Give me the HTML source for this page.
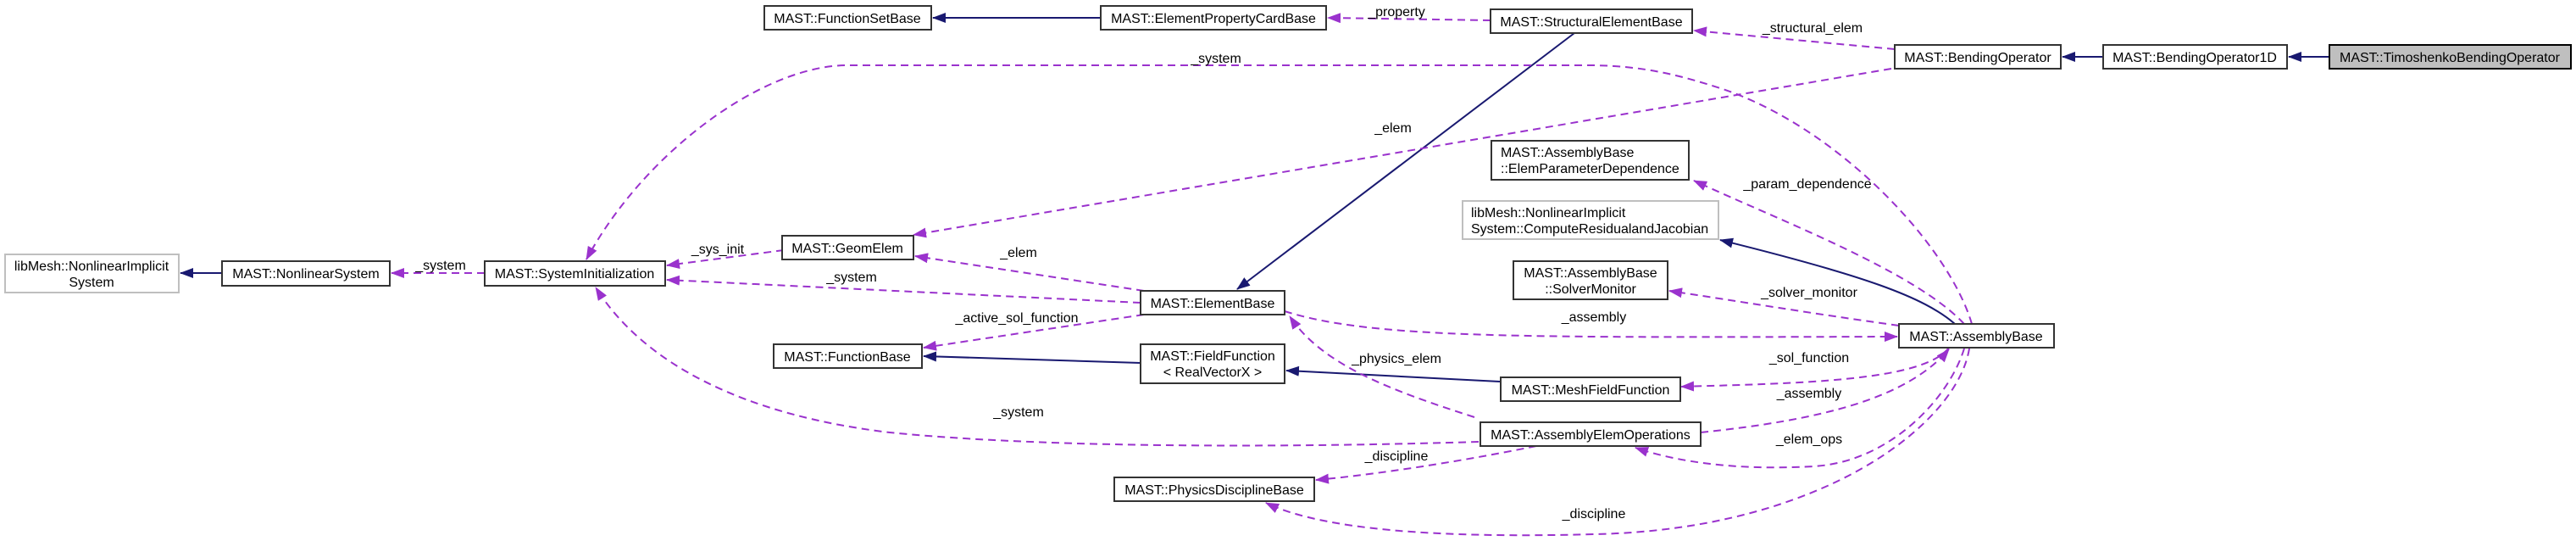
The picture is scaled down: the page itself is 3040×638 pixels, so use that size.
<!DOCTYPE html>
<html><head><meta charset="utf-8"><style>
html,body{margin:0;padding:0;background:#fff;}
svg{display:block;}
text{font-family:"Liberation Sans",Arial,sans-serif;font-size:16px;fill:#000;}
.b{fill:#fff;stroke:#333;stroke-width:2;}
.g{fill:#fff;stroke:#bfbfbf;stroke-width:2;}
.d{fill:none;stroke:#9a32cd;stroke-width:2;stroke-dasharray:9,6;}
.s{fill:none;stroke:#191970;stroke-width:2;}
</style></head><body>
<svg width="3040" height="638" viewBox="0 0 3040 638" xmlns="http://www.w3.org/2000/svg">
<defs>
<marker id="ap" markerWidth="16" markerHeight="12" refX="15" refY="6" orient="auto" markerUnits="userSpaceOnUse" viewBox="0 0 16 12"><path d="M0,0 L16,6 L0,12 z" fill="#9a32cd"/></marker>
<marker id="as" markerWidth="16" markerHeight="12" refX="15" refY="6" orient="auto" markerUnits="userSpaceOnUse" viewBox="0 0 16 12"><path d="M0,0 L16,6 L0,12 z" fill="#191970"/></marker>
</defs>
<g>
<path class="s" d="M1299,21 L1101,21" marker-end="url(#as)"/>
<path class="d" d="M1759,24 L1567,21" marker-end="url(#ap)"/>
<path class="d" d="M2236,58 L1999,36" marker-end="url(#ap)"/>
<path class="s" d="M2482,67 L2434,67" marker-end="url(#as)"/>
<path class="s" d="M2749,67 L2701,67" marker-end="url(#as)"/>
<path class="s" d="M1858,39 L1460,341" marker-end="url(#as)"/>
<path class="d" d="M2327,382 C2300,290 2170,150 2030,104 C1980,88 1940,78 1880,77 L1000,77 C900,77 760,180 692,306" marker-end="url(#ap)"/>
<path class="d" d="M2232,81 L1078,277" marker-end="url(#ap)"/>
<path class="d" d="M2318,382 C2260,320 2100,260 1999,213" marker-end="url(#ap)"/>
<path class="s" d="M2307,382 C2270,350 2200,325 2030,283" marker-end="url(#as)"/>
<path class="d" d="M2241,384 C2140,370 2050,355 1970,343" marker-end="url(#ap)"/>
<path class="s" d="M262,322 L213,322" marker-end="url(#as)"/>
<path class="d" d="M572,322 L462,322" marker-end="url(#ap)"/>
<path class="d" d="M925,295 L787,313" marker-end="url(#ap)"/>
<path class="d" d="M1350,343 L1080,302" marker-end="url(#ap)"/>
<path class="d" d="M1346,357 L787,330" marker-end="url(#ap)"/>
<path class="d" d="M1350,371 L1090,410" marker-end="url(#ap)"/>
<path class="d" d="M1516,367 C1620,400 1800,398 2239,397" marker-end="url(#ap)"/>
<path class="s" d="M1346,428 L1090,420" marker-end="url(#as)"/>
<path class="s" d="M1770,450 L1518,437" marker-end="url(#as)"/>
<path class="d" d="M2300,410 C2270,450 2120,452 1984,456" marker-end="url(#ap)"/>
<path class="d" d="M1740,492 C1640,460 1560,430 1522,373" marker-end="url(#ap)"/>
<path class="d" d="M2007,510 C2150,495 2250,470 2300,412" marker-end="url(#ap)"/>
<path class="d" d="M2318,411 C2300,470 2230,545 2140,550 C2050,555 1980,545 1930,528" marker-end="url(#ap)"/>
<path class="d" d="M1745,521 C1550,527 1250,530 1050,510 C880,490 760,430 703,339" marker-end="url(#ap)"/>
<path class="d" d="M1813,526 C1720,545 1620,560 1553,566" marker-end="url(#ap)"/>
<path class="d" d="M2324,411 C2310,500 2150,625 1880,630 C1700,635 1560,625 1494,593" marker-end="url(#ap)"/>
</g>
<rect class="b" x="902" y="7" width="197" height="28"/><text x="1000" y="27" text-anchor="middle">MAST::FunctionSetBase</text>
<rect class="b" x="1299" y="7" width="266" height="28"/><text x="1432" y="27" text-anchor="middle">MAST::ElementPropertyCardBase</text>
<rect class="b" x="1759" y="11" width="238" height="28"/><text x="1878" y="31" text-anchor="middle">MAST::StructuralElementBase</text>
<rect class="b" x="2236" y="53" width="196" height="28"/><text x="2334" y="73" text-anchor="middle">MAST::BendingOperator</text>
<rect class="b" x="2482" y="53" width="217" height="28"/><text x="2590" y="73" text-anchor="middle">MAST::BendingOperator1D</text>
<rect x="2749" y="53" width="285" height="28" fill="#bfbfbf" stroke="#000" stroke-width="2"/><text x="2891" y="73" text-anchor="middle">MAST::TimoshenkoBendingOperator</text>
<rect class="b" x="1760" y="166" width="233" height="46"/><text x="1771" y="185">MAST::AssemblyBase</text><text x="1771" y="204">::ElemParameterDependence</text>
<rect class="g" x="1726" y="237" width="302" height="45"/><text x="1736" y="256">libMesh::NonlinearImplicit</text><text x="1736" y="275">System::ComputeResidualandJacobian</text>
<rect class="b" x="1786" y="308" width="182" height="45"/><text x="1877" y="327" text-anchor="middle">MAST::AssemblyBase</text><text x="1877" y="346" text-anchor="middle">::SolverMonitor</text>
<rect class="b" x="2241" y="382" width="183" height="28"/><text x="2332" y="402" text-anchor="middle">MAST::AssemblyBase</text>
<rect class="g" x="6" y="300" width="205" height="45"/><text x="108" y="319" text-anchor="middle">libMesh::NonlinearImplicit</text><text x="108" y="338" text-anchor="middle">System</text>
<rect class="b" x="262" y="308" width="198" height="29"/><text x="361" y="328" text-anchor="middle">MAST::NonlinearSystem</text>
<rect class="b" x="572" y="308" width="213" height="29"/><text x="678" y="328" text-anchor="middle">MAST::SystemInitialization</text>
<rect class="b" x="923" y="278" width="155" height="28"/><text x="1000" y="298" text-anchor="middle">MAST::GeomElem</text>
<rect class="b" x="1346" y="343" width="170" height="28"/><text x="1431" y="363" text-anchor="middle">MAST::ElementBase</text>
<rect class="b" x="913" y="406" width="175" height="28"/><text x="1000" y="426" text-anchor="middle">MAST::FunctionBase</text>
<rect class="b" x="1346" y="406" width="170" height="46"/><text x="1431" y="425" text-anchor="middle">MAST::FieldFunction</text><text x="1431" y="444" text-anchor="middle">&lt; RealVectorX &gt;</text>
<rect class="b" x="1771" y="445" width="212" height="28"/><text x="1877" y="465" text-anchor="middle">MAST::MeshFieldFunction</text>
<rect class="b" x="1747" y="498" width="260" height="28"/><text x="1877" y="518" text-anchor="middle">MAST::AssemblyElemOperations</text>
<rect class="b" x="1315" y="563" width="236" height="28"/><text x="1433" y="583" text-anchor="middle">MAST::PhysicsDisciplineBase</text>
<g text-anchor="middle">
<text x="1648" y="19">_property</text>
<text x="2139" y="38">_structural_elem</text>
<text x="1435" y="74">_system</text>
<text x="1644" y="156">_elem</text>
<text x="2133" y="222">_param_dependence</text>
<text x="2135" y="350">_solver_monitor</text>
<text x="1881" y="379">_assembly</text>
<text x="847" y="299">_sys_init</text>
<text x="520" y="318">_system</text>
<text x="1005" y="332">_system</text>
<text x="1202" y="303">_elem</text>
<text x="1200" y="380">_active_sol_function</text>
<text x="1648" y="428">_physics_elem</text>
<text x="2135" y="427">_sol_function</text>
<text x="2135" y="469">_assembly</text>
<text x="1202" y="491">_system</text>
<text x="2135" y="523">_elem_ops</text>
<text x="1648" y="543">_discipline</text>
<text x="1881" y="611">_discipline</text>
</g>
</svg>
</body></html>
